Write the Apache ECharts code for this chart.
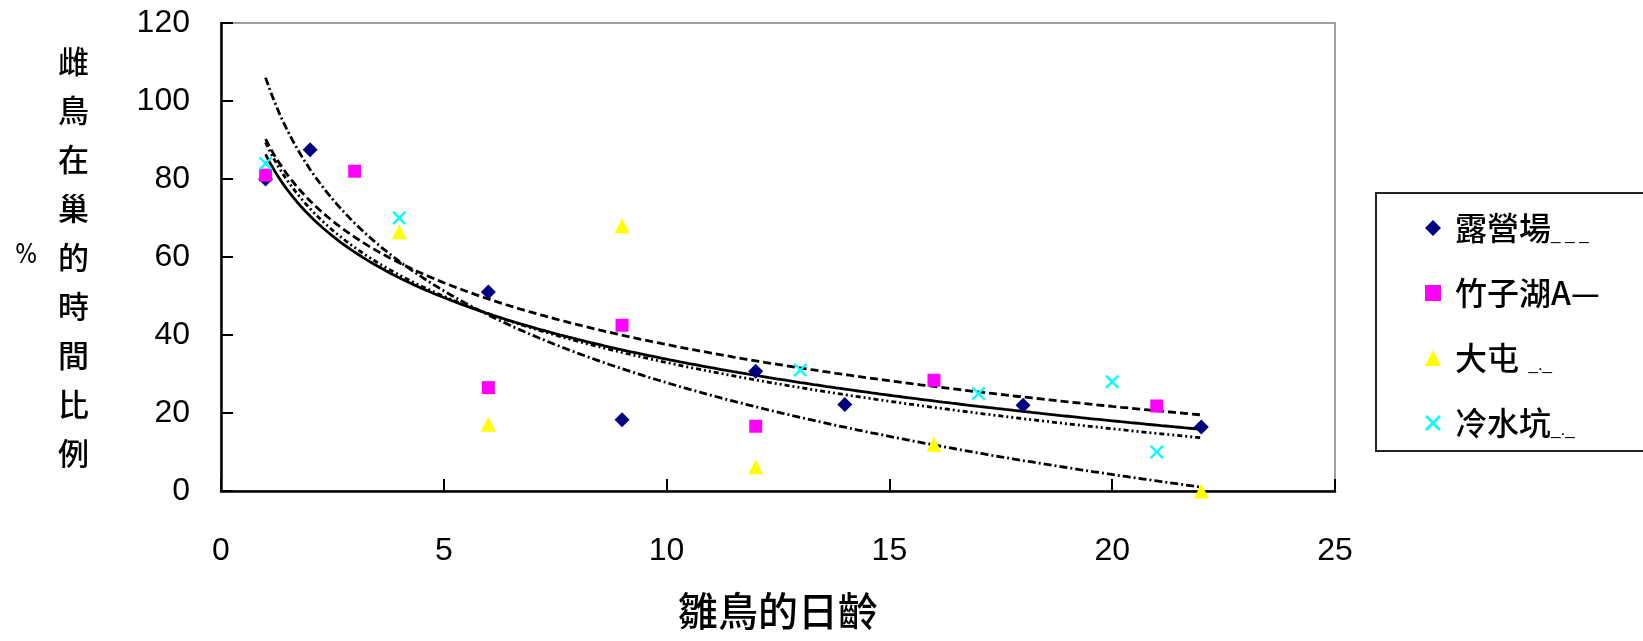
<!DOCTYPE html>
<html>
<head>
<meta charset="utf-8">
<script src="https://cdn.jsdelivr.net/npm/echarts@6/dist/echarts.min.js"></script>
<style>
  html, body { margin: 0; padding: 0; background: #fff; }
  #chart { width: 1643px; height: 641px; }
</style>
</head>
<body>
<div id="chart"></div>
<script>
// Observed share of time chicks stay in the nest, by chick age (days), four sites
const siteNames = ['露營場', '竹子湖A', '大屯', '冷水坑'];
const legendSuffix = ['_ _ _', '—', '  _._', '_._'];
const suffixStyle = ['s', 'n', 's', 's'];

const campX = [1, 2, 6, 9, 12, 14, 18, 22];
const campY = [80, 87.5, 51, 18.3, 30.7, 22.2, 22, 16.4];

const zhuziX = [1, 3, 6, 9, 12, 16, 21];
const zhuziY = [81, 82, 26.5, 42.5, 16.6, 28.4, 21.8];

const datunX = [4, 6, 9, 12, 16, 22];
const datunY = [66.5, 17.1, 68, 6.2, 12, 0];

const lengshuiX = [1, 4, 13, 17, 20, 21];
const lengshuiY = [84, 70, 31, 25, 28, 10];

// Trend curves span this age range
const trendFrom = 1;
const trendTo = 22;

const xAxisMax = 25, xAxisStep = 5;
const yAxisMax = 120, yAxisStep = 20;

const yTitle = '雌鳥在巢的時間比例';
const xTitle = '雛鳥的日齡';

const markerColors = ['#000080', '#FF00FF', '#FFFF00', '#00FFFF'];
const markerShapes = [
  'diamond',
  'rect',
  'triangle',
  'path://M0,1.2 L1.2,0 L5,3.8 L8.8,0 L10,1.2 L6.2,5 L10,8.8 L8.8,10 L5,6.2 L1.2,10 L0,8.8 L3.8,5 Z'
];
const markerSizes = [15, 13, 15, 14];
const trendDash = [[5, 3, 2, 3, 2, 3], 'solid', [8, 3, 2, 3], [8, 4]];

function pairs(xs, ys) { return xs.map((x, i) => [x, ys[i]]); }

// Least-squares fit of y = a + b·ln(x)
function logFit(xs, ys) {
  const n = xs.length;
  const lx = xs.map(Math.log);
  const mx = lx.reduce((s, v) => s + v, 0) / n;
  const my = ys.reduce((s, v) => s + v, 0) / n;
  let sxy = 0, sxx = 0;
  for (let i = 0; i < n; i++) {
    sxy += (lx[i] - mx) * (ys[i] - my);
    sxx += (lx[i] - mx) * (lx[i] - mx);
  }
  const b = sxy / sxx;
  const a = my - b * mx;
  return x => a + b * Math.log(x);
}

function trendPoints(xs, ys) {
  const f = logFit(xs, ys);
  const pts = [];
  for (let x = trendFrom; x <= trendTo + 1e-9; x += 0.1) pts.push([x, f(x)]);
  return pts;
}

const groups = [
  [campX, campY],
  [zhuziX, zhuziY],
  [datunX, datunY],
  [lengshuiX, lengshuiY]
];

const trendSeries = groups.map((g, i) => ({
  name: siteNames[i] + ' 趨勢',
  type: 'line',
  data: trendPoints(g[0], g[1]),
  showSymbol: false,
  smooth: false,
  silent: true,
  z: 2,
  lineStyle: { color: '#000', width: 2.8, type: trendDash[i] }
}));

const scatterSeries = groups.map((g, i) => ({
  name: siteNames[i],
  type: 'scatter',
  data: pairs(g[0], g[1]),
  symbol: markerShapes[i],
  symbolSize: markerSizes[i],
  z: 3,
  itemStyle: { color: markerColors[i], opacity: 1 }
}));

const numFont = "'Liberation Sans', Arial, sans-serif";
const cjkFont = "'Noto Sans CJK TC', 'Noto Sans CJK SC', sans-serif";

const chart = echarts.init(document.getElementById('chart'), null, { renderer: 'canvas' });

chart.setOption({
  backgroundColor: '#ffffff',
  animation: false,
  grid: {
    left: 221, top: 23, right: 308, bottom: 150,
    show: true, borderColor: '#808080', borderWidth: 1.5,
    backgroundColor: 'transparent'
  },
  xAxis: {
    type: 'value',
    min: 0, max: xAxisMax, interval: xAxisStep,
    name: xTitle,
    nameLocation: 'middle',
    nameGap: 100,
    nameTextStyle: { fontFamily: cjkFont, fontSize: 40, fontWeight: 500, color: '#000' },
    axisLine: { show: true, onZero: false, lineStyle: { color: '#000', width: 2.5 } },
    axisTick: { show: true, inside: true, length: 12, lineStyle: { color: '#000', width: 2 } },
    axisLabel: { margin: 44, fontFamily: numFont, fontSize: 32, color: '#000' },
    splitLine: { show: false }
  },
  yAxis: {
    type: 'value',
    min: 0, max: yAxisMax, interval: yAxisStep,
    name: yTitle.split('').join('\n'),
    nameLocation: 'middle',
    nameRotate: 0,
    nameGap: 132,
    nameTextStyle: { fontFamily: cjkFont, fontSize: 31, fontWeight: 500, lineHeight: 49, color: '#000', align: 'right' },
    axisLine: { show: true, onZero: false, lineStyle: { color: '#000', width: 2.5 } },
    axisTick: { show: true, inside: true, length: 12, lineStyle: { color: '#000', width: 2 } },
    axisLabel: { margin: 31, fontFamily: numFont, fontSize: 32, color: '#000' },
    splitLine: { show: false }
  },
  legend: {
    orient: 'vertical',
    left: 1425,
    top: 212,
    padding: 0,
    itemWidth: 16,
    itemHeight: 16,
    itemGap: 33,
    data: siteNames,
    formatter: name => {
      const i = siteNames.indexOf(name);
      return '{n|' + name + '}{' + suffixStyle[i] + '|' + legendSuffix[i] + '}';
    },
    textStyle: {
      padding: [0, 0, 0, 9],
      rich: {
        n: { fontFamily: cjkFont, fontSize: 32, fontWeight: 500, lineHeight: 32, color: '#000' },
        s: { fontFamily: numFont, fontSize: 17, lineHeight: 32, color: '#000', verticalAlign: 'bottom' }
      }
    }
  },
  graphic: [
    {
      type: 'rect',
      left: 1375, top: 192,
      shape: { x: 0, y: 0, width: 290, height: 258 },
      style: { fill: 'transparent', stroke: '#222', lineWidth: 2 },
      z: 1
    },
    {
      type: 'text',
      left: 15, top: 243,
      style: {
        text: '%',
        font: "26px 'Liberation Sans Narrow', 'DejaVu Sans Condensed', 'Liberation Sans', sans-serif",
        fill: '#000'
      }
    }
  ],
  series: [...trendSeries, ...scatterSeries]
});
</script>
</body>
</html>
